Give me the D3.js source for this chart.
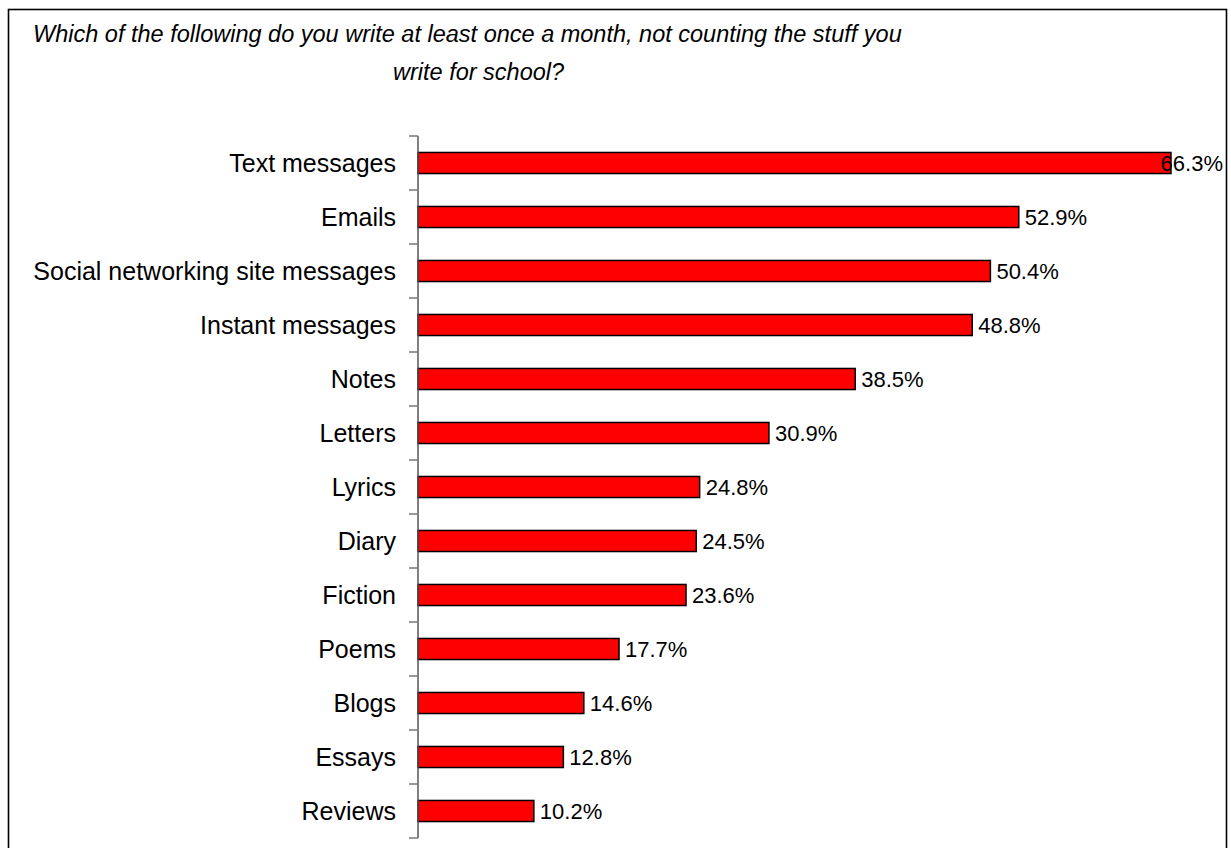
<!DOCTYPE html>
<html><head><meta charset="utf-8">
<script src="https://cdn.jsdelivr.net/npm/d3@7"></script>
<style>body{margin:0;background:#fff}svg{display:block}</style>
</head><body>
<svg id="c" width="1231" height="848"></svg>
<script>
const categories = ["Text messages","Emails","Social networking site messages","Instant messages","Notes","Letters","Lyrics","Diary","Fiction","Poems","Blogs","Essays","Reviews"];
const values = [66.3,52.9,50.4,48.8,38.5,30.9,24.8,24.5,23.6,17.7,14.6,12.8,10.2];
const titleLines = ["Which of the following do you write at least once a month, not counting the stuff you","write for school?"];

const svg = d3.select("#c");
const font = "'Liberation Sans', Arial, sans-serif";
// frame
svg.append("rect").attr("x",8.5).attr("y",9.5).attr("width",1218).attr("height",900)
  .attr("fill","#fff").attr("stroke","#000").attr("stroke-width",1.6);

// title
svg.append("text").attr("x",33).attr("y",42).attr("font-family",font).attr("font-style","italic")
  .attr("font-size",23.5).attr("fill","#000").text(titleLines[0]);
svg.append("text").attr("x",393).attr("y",80).attr("font-family",font).attr("font-style","italic")
  .attr("font-size",23.5).attr("fill","#000").text(titleLines[1]);

const x = d3.scaleLinear().domain([0,70]).range([418,1213]);
const y = d3.scaleBand().domain(categories).range([136,838]).paddingInner(0.61).paddingOuter(0.305);
const step = y.step();

// bars
svg.append("g").selectAll("rect").data(values).join("rect")
  .attr("x",x(0)).attr("y",(d,i)=>y(categories[i]))
  .attr("width",d=>x(d)-x(0)).attr("height",y.bandwidth())
  .attr("fill","#ff0000").attr("stroke","#000").attr("stroke-width",1.5);

// axis
const ax = svg.append("g");
ax.append("line").attr("x1",x(0)).attr("x2",x(0)).attr("y1",136).attr("y2",838).attr("stroke","#555").attr("stroke-width",1.5);
d3.range(categories.length+1).forEach(i=>{
  const yy = 136 + i*step;
  ax.append("line").attr("x1",x(0)-9).attr("x2",x(0)).attr("y1",yy).attr("y2",yy).attr("stroke","#777").attr("stroke-width",1.5);
});

// category labels
svg.append("g").selectAll("text").data(categories).join("text")
  .attr("x",396).attr("y",d=>y(d)+y.bandwidth()/2).attr("dy","0.35em")
  .attr("text-anchor","end").attr("font-family",font).attr("font-size",25).attr("fill","#000").text(d=>d);

// value labels
const vl = svg.append("g").selectAll("text").data(values).join("text")
  .attr("y",(d,i)=>y(categories[i])+y.bandwidth()/2).attr("dy","0.35em")
  .attr("font-family",font).attr("font-size",22).attr("fill","#000").text(d=>d.toFixed(1)+"%");
vl.each(function(d){
  const w = this.getComputedTextLength();
  let xx = x(d)+6;
  if (xx + w > 1223) xx = 1223 - w;
  d3.select(this).attr("x",xx);
});
</script>
</body></html>
